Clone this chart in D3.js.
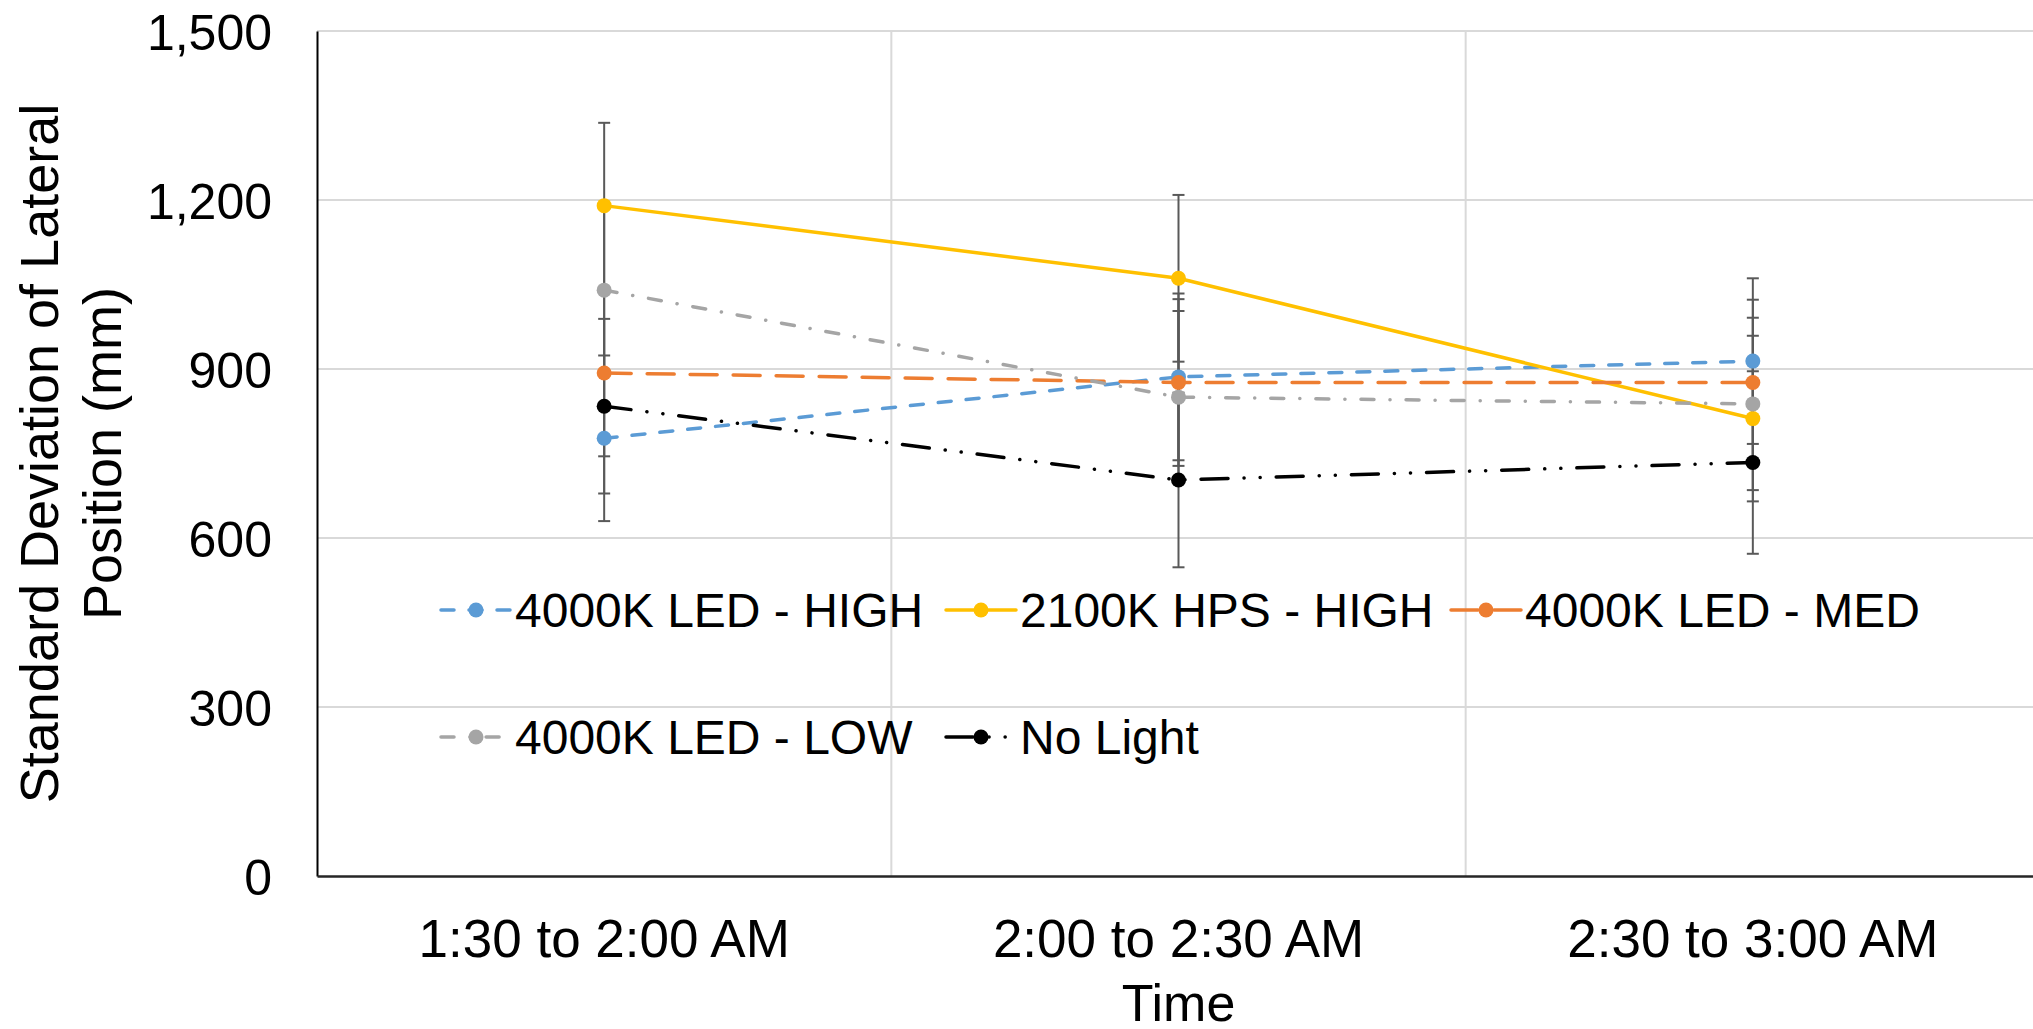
<!DOCTYPE html>
<html>
<head>
<meta charset="utf-8">
<script src="https://cdn.jsdelivr.net/npm/d3@7"></script>
<style>
  html, body { margin: 0; padding: 0; background: #ffffff; }
  svg { display: block; }
  text { font-family: "Liberation Sans", Arial, sans-serif; fill: #000; }
</style>
</head>
<body>
<svg id="chart" width="2033" height="1029"></svg>
<script>
// Time windows on the x axis
const categories = ["1:30 to 2:00 AM", "2:00 to 2:30 AM", "2:30 to 3:00 AM"];
const yTicks = [0, 300, 600, 900, 1200, 1500];

// Series labels (legend order)
const seriesNames = ["4000K LED - HIGH", "2100K HPS - HIGH", "4000K LED - MED", "4000K LED - LOW", "No Light"];

// Mean standard deviation of lateral position (mm)
const led4000High = [777, 886, 914];
const hps2100High = [1190, 1061, 812];
const led4000Med  = [893, 876, 876];
const led4000Low  = [1040, 850, 838];
const noLight     = [834, 703, 734];

// Error bar half-lengths (mm)
const led4000HighErr = [147, 148, 147];
const hps2100HighErr = [147, 148, 147];
const led4000MedErr  = [148, 148, 147];
const led4000LowErr  = [150, 153, 153];
const noLightErr     = [155, 155, 162];

const seriesColors = ["#5B9BD5", "#FFC000", "#ED7D31", "#A5A5A5", "#000000"];
const seriesDash = ["13,15", null, "27,16", "13,16,0.1,16", "27,16,0.1,16,0.1,16"];

const seriesValues = [led4000High, hps2100High, led4000Med, led4000Low, noLight];
const seriesErrors = [led4000HighErr, hps2100HighErr, led4000MedErr, led4000LowErr, noLightErr];

const series = seriesNames.map((name, i) => ({
  name,
  color: seriesColors[i],
  dash: seriesDash[i],
  points: categories.map((c, j) => ({ cat: c, value: seriesValues[i][j], err: seriesErrors[i][j] }))
}));

const svg = d3.select("#chart");
const plotLeft = 317, plotRight = 2040, plotTop = 31, plotBottom = 876;

const x = d3.scaleBand().domain(categories).range([plotLeft, plotRight]).paddingInner(0).paddingOuter(0);
const y = d3.scaleLinear().domain([0, 1500]).range([plotBottom, plotTop]);
const cx = d => x(d) + x.bandwidth() / 2;

// Gridlines
const grid = svg.append("g");
grid.selectAll("line.h").data(yTicks.filter(t => t > 0)).join("line")
  .attr("class", "h")
  .attr("x1", plotLeft).attr("x2", plotRight)
  .attr("y1", d => y(d)).attr("y2", d => y(d))
  .attr("stroke", "#d9d9d9").attr("stroke-width", 2);
grid.selectAll("line.v").data(categories.slice(1)).join("line")
  .attr("class", "v")
  .attr("x1", d => x(d)).attr("x2", d => x(d))
  .attr("y1", plotTop).attr("y2", plotBottom)
  .attr("stroke", "#d9d9d9").attr("stroke-width", 2);

// Y axis
const yAxis = svg.append("g").attr("transform", `translate(${plotLeft},0)`)
  .call(d3.axisLeft(y).tickValues(yTicks).tickSize(0).tickSizeOuter(0).tickPadding(45).tickFormat(d3.format(",")));
yAxis.select(".domain").attr("stroke", "#000").attr("stroke-width", 2);
yAxis.selectAll("text").attr("font-size", 50).attr("dy", "0.36em")
  .style("font-family", "'Liberation Sans', Arial, sans-serif");

// X axis
const xAxis = svg.append("g").attr("transform", `translate(0,${plotBottom})`)
  .call(d3.axisBottom(x).tickSize(0).tickSizeOuter(0));
xAxis.select(".domain").attr("stroke", "#262626").attr("stroke-width", 2.5);
xAxis.selectAll("text").attr("font-size", 53).attr("y", 81).attr("dy", null)
  .style("font-family", "'Liberation Sans', Arial, sans-serif");

// Axis titles
svg.append("text").attr("x", cx(categories[1])).attr("y", 1021)
  .attr("text-anchor", "middle").attr("font-size", 52).text("Time");

const yTitle = svg.append("text").attr("text-anchor", "middle").attr("font-size", 54)
  .attr("transform", `translate(0,${(plotTop + plotBottom) / 2}) rotate(-90)`);
yTitle.append("tspan").attr("x", 0).attr("y", 58).text("Standard Deviation of Lateral");
yTitle.append("tspan").attr("x", 0).attr("y", 121).text("Position (mm)");

// Series: error bars, lines, markers
const plot = svg.append("g");
const line = d3.line().x(d => cx(d.cat)).y(d => y(d.value));

series.forEach(s => {
  const g = plot.append("g");
  const eb = g.selectAll("g.err").data(s.points).join("g").attr("class", "err")
    .attr("stroke", "#595959").attr("stroke-width", 2);
  eb.append("line").attr("x1", d => cx(d.cat)).attr("x2", d => cx(d.cat))
    .attr("y1", d => y(d.value + d.err)).attr("y2", d => y(d.value - d.err));
  eb.append("line").attr("x1", d => cx(d.cat) - 6).attr("x2", d => cx(d.cat) + 6)
    .attr("y1", d => y(d.value + d.err)).attr("y2", d => y(d.value + d.err));
  eb.append("line").attr("x1", d => cx(d.cat) - 6).attr("x2", d => cx(d.cat) + 6)
    .attr("y1", d => y(d.value - d.err)).attr("y2", d => y(d.value - d.err));
});

series.forEach(s => {
  plot.append("path").datum(s.points)
    .attr("d", line).attr("fill", "none")
    .attr("stroke", s.color).attr("stroke-width", 3.5)
    .attr("stroke-linecap", "round")
    .attr("stroke-dasharray", s.dash);
  plot.append("g").selectAll("circle").data(s.points).join("circle")
    .attr("cx", d => cx(d.cat)).attr("cy", d => y(d.value)).attr("r", 7.5)
    .attr("fill", s.color);
});

// Legend (two rows inside the plot area, no background)
const legendPos = [
  { x: 441, y: 610 }, { x: 946, y: 610 }, { x: 1451, y: 610 },
  { x: 441, y: 737 }, { x: 946, y: 737 }
];
const legend = svg.append("g");
series.forEach((s, i) => {
  const p = legendPos[i];
  const item = legend.append("g").attr("transform", `translate(${p.x},${p.y})`);
  item.append("line").attr("x1", 0).attr("x2", 70).attr("y1", 0).attr("y2", 0)
    .attr("stroke", s.color).attr("stroke-width", 3.5)
    .attr("stroke-linecap", "round")
    .attr("stroke-dasharray", s.dash);
  item.append("circle").attr("cx", 35).attr("cy", 0).attr("r", 7.5).attr("fill", s.color);
  item.append("text").attr("x", 74).attr("y", 0).attr("dy", "0.35em")
    .attr("font-size", 48).text(s.name);
});
</script>
</body>
</html>
